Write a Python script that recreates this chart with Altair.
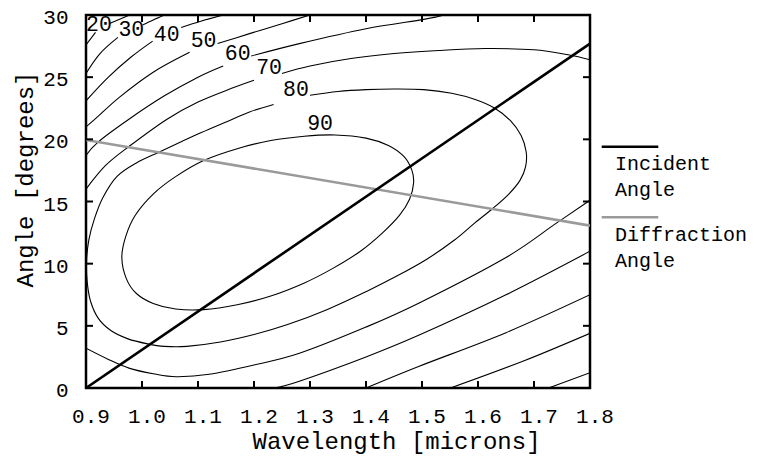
import altair as alt
import pandas as pd

# ---------------- data ----------------
x_ticks = [0.9, 1.0, 1.1, 1.2, 1.3, 1.4, 1.5, 1.6, 1.7, 1.8]
y_ticks = [0, 5, 10, 15, 20, 25, 30]

# contour segments (wavelength, angle); lines are broken where labels sit
c20a_x = [0.900, 0.917]
c20a_y = [27.6, 28.6]
c20b_x = [0.941, 0.978]
c20b_y = [29.3, 30.0]

c30a_x = [0.900, 0.925, 0.957]
c30a_y = [25.3, 26.9, 28.2]
c30b_x = [1.001, 1.020, 1.040]
c30b_y = [29.2, 29.6, 30.0]
c30c_x = [1.726, 1.800]
c30c_y = [0.0, 1.23]

c40a_x = [0.900, 0.940, 0.980, 1.019]
c40a_y = [23.1, 25.0, 26.6, 27.9]
c40b_x = [1.070, 1.105, 1.145]
c40b_y = [29.0, 29.5, 30.0]
c40c_x = [1.551, 1.680, 1.800]
c40c_y = [0.0, 2.15, 4.4]

c50a_x = [0.900, 0.918, 0.960, 1.020, 1.085]
c50a_y = [21.0, 21.7, 23.4, 25.4, 27.0]
c50b_x = [1.135, 1.192, 1.250, 1.300]
c50b_y = [27.7, 28.5, 29.3, 30.0]
c50c_x = [1.400, 1.495, 1.650, 1.800]
c50c_y = [0.0, 1.75, 4.45, 7.5]

c60a_x = [0.900, 0.922, 0.976, 1.040, 1.100, 1.145]
c60a_y = [18.7, 19.8, 21.6, 23.5, 25.0, 25.9]
c60b_x = [1.195, 1.281, 1.400, 1.503, 1.540]
c60b_y = [26.7, 27.7, 28.9, 29.65, 30.0]
c60c_x = [1.236, 1.281, 1.400, 1.495, 1.650, 1.800]
c60c_y = [0.0, 0.55, 2.5, 4.26, 7.5, 11.0]

c70a_x = [0.900, 0.935, 0.976, 1.044, 1.100, 1.160, 1.200]
c70a_y = [16.0, 17.9, 19.4, 21.6, 23.0, 24.1, 24.75]
c70b_x = [1.250, 1.300, 1.373, 1.450, 1.530, 1.613, 1.700, 1.761, 1.800]
c70b_y = [25.3, 25.9, 26.5, 26.9, 27.15, 27.3, 27.2, 26.8, 26.4]
c70c_x = [0.900, 0.940, 0.978, 1.020, 1.061, 1.120, 1.200, 1.281, 1.400, 1.495, 1.650, 1.738, 1.800]
c70c_y = [3.2, 2.3, 1.58, 1.15, 0.91, 1.1, 1.85, 2.79, 4.9, 6.84, 10.5, 13.2, 15.1]

c80_x = [1.300, 1.350, 1.400, 1.450, 1.503, 1.553, 1.595, 1.630, 1.658, 1.677, 1.686,
         1.685, 1.675, 1.655, 1.628, 1.595, 1.558, 1.510, 1.455, 1.400, 1.330, 1.260,
         1.200, 1.140, 1.080, 1.040, 1.010, 0.975, 0.945, 0.922, 0.908, 0.902, 0.901,
         0.905, 0.915, 0.930, 0.955, 0.990, 1.032, 1.070, 1.106, 1.150, 1.192, 1.235]
c80_y = [23.55, 23.85, 24.0, 24.05, 24.0, 23.7, 23.2, 22.5, 21.5, 20.3, 19.0,
         17.8, 16.7, 15.6, 14.5, 13.3, 11.9, 10.4, 9.0, 7.75, 6.3, 5.1,
         4.3, 3.7, 3.35, 3.35, 3.55, 3.95, 4.6, 5.6, 7.0, 8.6, 10.2,
         11.9, 13.6, 15.3, 17.0, 18.1, 19.0, 19.8, 20.55, 21.4, 22.2, 22.8]

c90_x = [0.964, 0.971, 0.988, 1.020, 1.060, 1.110, 1.170, 1.230, 1.290, 1.345, 1.400, 1.440,
         1.468, 1.482, 1.485, 1.478, 1.460, 1.430, 1.390, 1.340, 1.290, 1.230, 1.170, 1.110,
         1.060, 1.020, 0.990, 0.972]
c90_y = [10.5, 12.2, 13.9, 15.6, 17.0, 18.3, 19.25, 19.9, 20.25, 20.35, 20.1, 19.5,
         18.6, 17.5, 16.5, 15.2, 13.9, 12.5, 11.0, 9.6, 8.45, 7.4, 6.7, 6.3,
         6.35, 6.8, 7.6, 8.8]

label_text = ["20", "30", "40", "50", "60", "70", "80", "90"]
label_x = [0.923, 0.981, 1.044, 1.110, 1.171, 1.227, 1.275, 1.318]
label_y = [29.2, 28.8, 28.4, 27.9, 26.9, 25.7, 24.0, 21.2]

series_names = ["Incident Angle", "Diffraction Angle"]
series_colors = ["black", "#9a9a9a"]
incident_x = [0.9, 1.8]
incident_y = [0.0, 27.7]
diffraction_x = [0.9, 1.8]
diffraction_y = [19.95, 13.06]

# ---------------- build tables ----------------
open_segs = [
    ("20a", c20a_x, c20a_y), ("20b", c20b_x, c20b_y),
    ("30a", c30a_x, c30a_y), ("30b", c30b_x, c30b_y), ("30c", c30c_x, c30c_y),
    ("40a", c40a_x, c40a_y), ("40b", c40b_x, c40b_y), ("40c", c40c_x, c40c_y),
    ("50a", c50a_x, c50a_y), ("50b", c50b_x, c50b_y), ("50c", c50c_x, c50c_y),
    ("60a", c60a_x, c60a_y), ("60b", c60b_x, c60b_y), ("60c", c60c_x, c60c_y),
    ("70a", c70a_x, c70a_y), ("70b", c70b_x, c70b_y), ("70c", c70c_x, c70c_y),
    ("80", c80_x, c80_y),
]
rows = []
for name, xs_, ys_ in open_segs:
    for i, (a, b) in enumerate(zip(xs_, ys_)):
        rows.append({"seg": name, "o": i, "x": a, "y": b})
open_df = pd.DataFrame(rows)
closed_df = pd.DataFrame({"seg": "90", "o": range(len(c90_x)), "x": c90_x, "y": c90_y})
inc_df = pd.DataFrame({"x": incident_x, "y": incident_y})
dif_df = pd.DataFrame({"x": diffraction_x, "y": diffraction_y})
lab_df = pd.DataFrame({"x": label_x, "y": label_y, "t": label_text})
xt_df = pd.DataFrame({"x": x_ticks})
yt_df = pd.DataFrame({"y": y_ticks})

W, H = 504, 373
FONT = "Liberation Mono"
TICK = 7

xs = alt.Scale(domain=[0.9, 1.8], nice=False, zero=False)
ys = alt.Scale(domain=[0, 30], nice=False, zero=False)

X = alt.X("x:Q", scale=xs, axis=alt.Axis(
    values=x_ticks, format=".1f", title="Wavelength [microns]",
    ticks=False, domain=False, grid=False, labelPadding=17,
    labelFlush=False, labelOverlap=False, labelOffset=4.5,
    titleX=310, titleY=60, titleBaseline="alphabetic", titleAlign="center"))
Y = alt.Y("y:Q", scale=ys, axis=alt.Axis(
    values=y_ticks, title="Angle [degrees]",
    ticks=False, domain=False, grid=False, labelPadding=18,
    labelFlush=False, labelOverlap=False, labelOffset=2.5,
    titleX=-54, titleY=164, titleBaseline="alphabetic", titleAlign="center", titleAngle=270))

contours = alt.Chart(open_df).mark_line(
    color="black", strokeWidth=1.1, interpolate="cardinal", clip=True
).encode(x=X, y=Y, detail="seg:N", order="o:Q")

ring = alt.Chart(closed_df).mark_line(
    color="black", strokeWidth=1.1, interpolate="cardinal-closed", clip=True
).encode(x="x:Q", y="y:Q", detail="seg:N", order="o:Q")

dif = alt.Chart(dif_df).mark_line(color=series_colors[1], strokeWidth=2.6, clip=True).encode(
    x="x:Q", y="y:Q")
inc = alt.Chart(inc_df).mark_line(color=series_colors[0], strokeWidth=2.6, clip=True).encode(
    x="x:Q", y="y:Q")

labels = alt.Chart(lab_df).mark_text(
    font=FONT, fontSize=21.5, color="black", align="center", baseline="middle"
).encode(x="x:Q", y="y:Q", text="t:N")

tick_b = alt.Chart(xt_df).mark_rule(color="black", strokeWidth=2).encode(
    x="x:Q", y=alt.value(H), y2=alt.value(H - TICK))
tick_t = alt.Chart(xt_df).mark_rule(color="black", strokeWidth=2).encode(
    x="x:Q", y=alt.value(0), y2=alt.value(TICK))
tick_l = alt.Chart(yt_df).mark_rule(color="black", strokeWidth=2).encode(
    y="y:Q", x=alt.value(0), x2=alt.value(TICK))
tick_r = alt.Chart(yt_df).mark_rule(color="black", strokeWidth=2).encode(
    y="y:Q", x=alt.value(W), x2=alt.value(W - TICK))

# legend (drawn beside the plot)
leg_rules = []
leg_texts = []
for i, (nm, col) in enumerate(zip(series_names, series_colors)):
    top = 131.7 + i * 70.6
    leg_rules.append(
        alt.Chart(pd.DataFrame({"n": [nm]})).mark_rule(color=col, strokeWidth=2.6).encode(
            x=alt.value(515.7), x2=alt.value(572.3), y=alt.value(top)))
    for j, word in enumerate(nm.split(" ")):
        leg_texts.append(
            alt.Chart(pd.DataFrame({"t": [word]})).mark_text(
                font=FONT, fontSize=20, color="black", align="left", baseline="alphabetic"
            ).encode(x=alt.value(529), y=alt.value(top + 23.5 + j * 25.8), text="t:N"))

chart = alt.layer(
    contours, ring, dif, inc, labels, tick_b, tick_t, tick_l, tick_r, *leg_rules, *leg_texts
).properties(
    width=W, height=H,
    autosize=alt.AutoSizeParams(type="none"),
    padding={"left": 78, "top": 7, "right": 160, "bottom": 68},
).configure_view(
    stroke="black", strokeWidth=2.5
).configure_axis(
    labelFont=FONT, labelFontSize=21, labelColor="black",
    titleFont=FONT, titleFontSize=24, titleFontWeight="normal", titleColor="black",
)

chart.save("out.html", embed_options={"renderer": "svg", "actions": False})
